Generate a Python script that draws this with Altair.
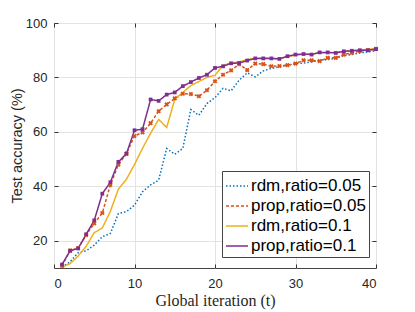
import altair as alt
import pandas as pd

# ---- data ----
t = list(range(1, 41))
rdm_005 = [10.3, 12.3, 15.6, 16.3, 18.4, 21.5, 22.7, 30.0, 30.7, 33.1,
           38.0, 40.5, 42.3, 53.9, 51.8, 53.9, 68.2, 66.1, 70.4, 72.6,
           76.0, 75.1, 79.0, 81.7, 80.2, 82.4, 83.3, 83.9, 84.5, 85.1,
           85.3, 85.7, 86.3, 86.6, 87.0, 88.0, 88.4, 89.0, 89.4, 89.8]
prop_005 = [10.8, 16.5, 17.3, 22.1, 26.4, 30.2, 40.5, 48.0, 52.0, 58.5,
            59.8, 63.2, 67.6, 70.1, 72.3, 74.0, 73.9, 73.1, 75.3, 78.6,
            81.0, 82.6, 84.9, 82.7, 85.1, 84.9, 84.1, 84.2, 84.5, 85.1,
            86.3, 86.3, 86.0, 87.2, 87.2, 88.4, 89.0, 89.7, 90.0, 90.5]
rdm_01 = [10.3, 11.6, 14.4, 18.0, 23.0, 24.7, 30.8, 39.0, 42.6, 48.0,
          54.0, 59.5, 64.6, 61.6, 72.0, 74.5, 77.0, 78.5, 80.0, 80.8,
          84.5, 85.3, 85.7, 86.6, 87.0, 87.2, 87.0, 87.0, 87.6, 88.2,
          88.5, 88.6, 89.0, 89.1, 89.2, 89.6, 89.8, 90.1, 90.3, 90.6]
prop_01 = [11.3, 16.3, 17.2, 22.4, 27.5, 37.3, 41.5, 49.0, 52.0, 60.6,
           61.0, 71.9, 71.4, 73.7, 74.5, 76.8, 78.3, 79.8, 81.0, 83.5,
           84.1, 85.2, 85.3, 86.2, 87.0, 87.0, 87.0, 86.8, 87.8, 88.4,
           88.6, 88.4, 89.2, 89.2, 89.0, 89.6, 89.8, 90.0, 90.0, 90.4]

series_names = ["rdm,ratio=0.05", "prop,ratio=0.05", "rdm,ratio=0.1", "prop,ratio=0.1"]
colors = ["#0072BD", "#D95319", "#EDB120", "#7E2F8E"]
dashes = [[1.5, 2], [3, 2], [1, 0], [1, 0]]
x_ticks = [0, 10, 20, 30, 40]
y_ticks = [20, 40, 60, 80, 100]

rows = []
for name, vals in zip(series_names, [rdm_005, prop_005, rdm_01, prop_01]):
    for ti, v in zip(t, vals):
        rows.append({"t": ti, "value": v, "series": name})
df = pd.DataFrame(rows)

W, H = 322, 245
xscale = alt.Scale(domain=[0, 40], nice=False)
yscale = alt.Scale(domain=[10, 100], nice=False, zero=False)

base = alt.Chart(df)

lines = base.mark_line(strokeWidth=1.5).encode(
    x=alt.X("t:Q", scale=xscale,
            axis=alt.Axis(values=x_ticks, title="Global iteration (t)", grid=True,
                          tickSize=0, domain=False, labelPadding=9,
                          titleFont="Liberation Serif", titleFontSize=16,
                          titleFontWeight="normal", titlePadding=2)),
    y=alt.Y("value:Q", scale=yscale,
            axis=alt.Axis(values=y_ticks, title="Test accuracy (%)", grid=True,
                          tickSize=0, domain=False, labelPadding=7,
                          titleFont="Liberation Sans", titleFontSize=14.5,
                          titleFontWeight="normal", titlePadding=1)),
    color=alt.Color("series:N", sort=series_names,
                    scale=alt.Scale(domain=series_names, range=colors),
                    legend=alt.Legend(title=None)),
    strokeDash=alt.StrokeDash("series:N", sort=series_names,
                              scale=alt.Scale(domain=series_names, range=dashes),
                              legend=alt.Legend(title=None)),
    order="t:Q",
)

tick_style = dict(labels=False, title=None, grid=False, domain=False,
                  tickSize=4, tickColor="#333", tickWidth=1)

pts_orange = base.transform_filter(alt.datum.series == series_names[1]).mark_point(
    shape="cross", angle=45, filled=True, size=22, color=colors[1], opacity=1
).encode(
    x=alt.X("t:Q", scale=xscale,
            axis=alt.Axis(orient="top", offset=-H, values=x_ticks, **tick_style)),
    y=alt.Y("value:Q", scale=yscale,
            axis=alt.Axis(orient="right", offset=-W, values=y_ticks, **tick_style)),
)

pts_purple = base.transform_filter(alt.datum.series == series_names[3]).mark_point(
    shape="square", filled=True, size=14, color=colors[3], opacity=1
).encode(
    x=alt.X("t:Q", scale=xscale,
            axis=alt.Axis(orient="bottom", offset=-H, values=x_ticks, **tick_style)),
    y=alt.Y("value:Q", scale=yscale,
            axis=alt.Axis(orient="left", offset=-W, values=y_ticks, **tick_style)),
)

chart = alt.layer(lines, pts_orange, pts_purple).resolve_axis(
    x="independent", y="independent"
).properties(
    width=W, height=H,
    padding={"left": 46, "top": 15, "right": 31, "bottom": 42},
    autosize=alt.AutoSizeParams(type="none"),
).configure_view(
    stroke="#444", strokeWidth=1
).configure_axis(
    gridColor="#e3e3e3", gridWidth=1,
    labelFont="Liberation Sans", labelFontSize=13, labelColor="#262626",
    titleFont="Liberation Sans", titleColor="#262626",
).configure_legend(
    orient="none", legendX=168, legendY=148,
    strokeColor="#444", fillColor="white", padding=3,
    symbolType="stroke", symbolSize=484, symbolStrokeWidth=1.5,
    labelFont="Liberation Sans", labelFontSize=17, labelColor="black",
    rowPadding=0, labelOffset=2, labelLimit=300,
)

chart.save("out.html", embed_options={"renderer": "svg", "actions": False})
